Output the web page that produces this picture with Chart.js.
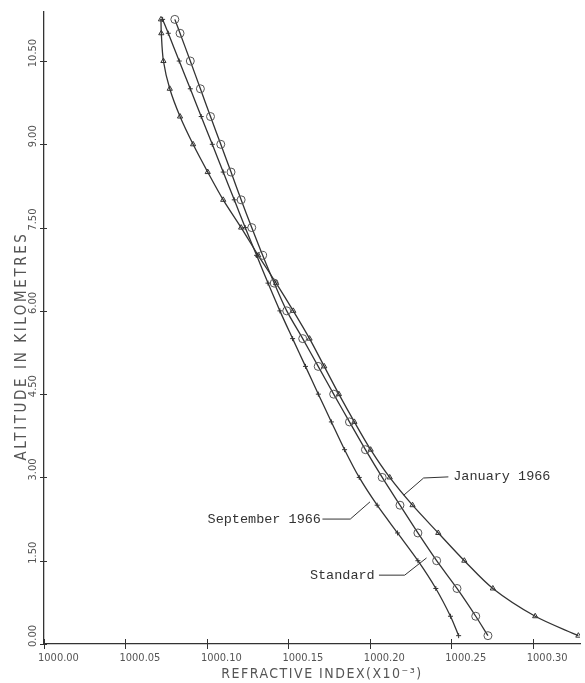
<!DOCTYPE html>
<html>
<head>
<meta charset="utf-8">
<script src="https://cdn.jsdelivr.net/npm/chart.js@4.4.1/dist/chart.umd.min.js"></script>
<style>
  html, body { margin: 0; padding: 0; background: #fff; }
  canvas { display: block; }
</style>
</head>
<body>
<canvas id="chart" width="585" height="683"></canvas>
<script>
// altitudes (km) shared by the three soundings
const altitudes = [0.15, 0.5, 1.0, 1.5, 2.0, 2.5, 3.0, 3.5, 4.0, 4.5, 5.0, 5.5,
                   6.0, 6.5, 7.0, 7.5, 8.0, 8.5, 9.0, 9.5, 10.0, 10.5, 11.0, 11.25];

// refractive index (x10^-3)
const september1966 = [1000.2545, 1000.2495, 1000.2405, 1000.2295, 1000.2170, 1000.2045,
                       1000.1935, 1000.1845, 1000.1764, 1000.1684, 1000.1605, 1000.1526,
                       1000.1448, 1000.1375, 1000.1305, 1000.1235, 1000.1168, 1000.1100,
                       1000.1033, 1000.0965, 1000.0898, 1000.0830, 1000.0763, 1000.0728];
const standard = [1000.2725, 1000.2650, 1000.2535, 1000.2410, 1000.2295, 1000.2185,
                  1000.2076, 1000.1973, 1000.1875, 1000.1778, 1000.1683, 1000.1588,
                  1000.1490, 1000.1413, 1000.1342, 1000.1275, 1000.1210, 1000.1148,
                  1000.1085, 1000.1022, 1000.0960, 1000.0898, 1000.0835, 1000.0803];
const january1966 = [1000.3280, 1000.3015, 1000.2755, 1000.2580, 1000.2420, 1000.2262,
                     1000.2122, 1000.2005, 1000.1905, 1000.1810, 1000.1720, 1000.1630,
                     1000.1530, 1000.1425, 1000.1315, 1000.1210, 1000.1100, 1000.1005,
                     1000.0915, 1000.0835, 1000.0772, 1000.0733, 1000.0720, 1000.0718];

const xTicks = [1000.00, 1000.05, 1000.10, 1000.15, 1000.20, 1000.25, 1000.30];
const xTickLabels = ['1000.00', '1000.05', '1000.10', '1000.15', '1000.20', '1000.25', '1000.30'];
const yTicks = [0, 1.5, 3.0, 4.5, 6.0, 7.5, 9.0, 10.5];
const yTickLabels = ['0.00', '1.50', '3.00', '4.50', '6.00', '7.50', '9.00', '10.50'];

// curve labels: text, anchor, leader polyline (data coords)
const curveLabels = [
  { text: 'January 1966', at: [1000.2512, 3.01], align: 'left',
    leader: [[1000.2482, 3.01], [1000.2330, 2.99], [1000.2208, 2.68]] },
  { text: 'September 1966', at: [1000.1700, 2.25], align: 'right',
    leader: [[1000.1709, 2.25], [1000.1880, 2.25], [1000.2001, 2.56]] },
  { text: 'Standard', at: [1000.2030, 1.24], align: 'right',
    leader: [[1000.2056, 1.24], [1000.2214, 1.24], [1000.2348, 1.55]] }
];

const ink = '#333';
const toPoints = vals => vals.map((v, i) => ({ x: v, y: altitudes[i] }));

const decor = {
  id: 'decor',
  beforeDraw(chart) {
    const ctx = chart.ctx;
    ctx.save();
    ctx.fillStyle = '#fff';
    ctx.fillRect(0, 0, chart.width, chart.height);
    ctx.restore();
  },
  afterDraw(chart) {
    const ctx = chart.ctx;
    const xs = chart.scales.x, ys = chart.scales.y;
    const area = chart.chartArea;
    ctx.save();
    ctx.strokeStyle = ink;
    ctx.fillStyle = '#555';
    ctx.lineWidth = 1;

    // tick marks crossing the axes
    xTicks.forEach(v => {
      const px = Math.round(xs.getPixelForValue(v)) + 0.5;
      ctx.beginPath();
      ctx.moveTo(px, area.bottom - 5);
      ctx.lineTo(px, area.bottom + 5);
      ctx.stroke();
    });
    yTicks.forEach(v => {
      const py = Math.round(ys.getPixelForValue(v)) + 0.5;
      ctx.beginPath();
      ctx.moveTo(area.left - 4, py);
      ctx.lineTo(area.left + 3, py);
      ctx.stroke();
    });

    // tick labels
    ctx.font = "11px 'Liberation Sans Narrow', 'DejaVu Sans Condensed', 'Liberation Sans', sans-serif";
    ctx.textBaseline = 'middle';
    ctx.textAlign = 'left';
    xTicks.forEach((v, i) => {
      ctx.fillText(xTickLabels[i], xs.getPixelForValue(v) - 6, area.bottom + 14);
    });
    ctx.textAlign = 'center';
    yTicks.forEach((v, i) => {
      ctx.save();
      ctx.translate(area.left - 11, ys.getPixelForValue(v) - 8);
      ctx.rotate(-Math.PI / 2);
      ctx.fillText(yTickLabels[i], 0, 0);
      ctx.restore();
    });

    // axis titles
    ctx.font = "14px 'Liberation Sans Narrow', 'DejaVu Sans Condensed', 'Liberation Sans', sans-serif";
    ctx.letterSpacing = '1.5px';
    ctx.textAlign = 'center';
    ctx.fillText('REFRACTIVE INDEX(X10\u207B\u00B3)', 322, 674);
    ctx.font = "15px 'Liberation Sans Narrow', 'DejaVu Sans Condensed', 'Liberation Sans', sans-serif";
    ctx.letterSpacing = '2.6px';
    ctx.save();
    ctx.translate(22, 346);
    ctx.rotate(-Math.PI / 2);
    ctx.fillText('ALTITUDE IN KILOMETRES', 0, 0);
    ctx.restore();
    ctx.letterSpacing = '0px';

    // curve labels with leaders
    ctx.font = "13.5px 'Liberation Mono', 'DejaVu Sans Mono', monospace";
    ctx.fillStyle = '#333';
    curveLabels.forEach(l => {
      ctx.beginPath();
      l.leader.forEach(([x, y], i) => {
        const px = xs.getPixelForValue(x), py = ys.getPixelForValue(y);
        if (i === 0) ctx.moveTo(px, py); else ctx.lineTo(px, py);
      });
      ctx.stroke();
      ctx.textAlign = l.align;
      ctx.fillText(l.text, xs.getPixelForValue(l.at[0]), ys.getPixelForValue(l.at[1]));
    });
    ctx.restore();
  }
};

new Chart(document.getElementById('chart'), {
  type: 'scatter',
  data: {
    datasets: [
      {
        label: 'September 1966',
        data: toPoints(september1966),
        showLine: true,
        borderColor: ink,
        borderWidth: 1.3,
        tension: 0.3,
        pointStyle: 'cross',
        pointRadius: 2.5,
        pointBorderColor: ink,
        pointBorderWidth: 1
      },
      {
        label: 'Standard',
        data: toPoints(standard),
        showLine: true,
        borderColor: ink,
        borderWidth: 1.3,
        tension: 0.3,
        pointStyle: 'circle',
        pointRadius: 4,
        pointBackgroundColor: 'rgba(255,255,255,0)',
        pointBorderColor: '#555',
        pointBorderWidth: 1
      },
      {
        label: 'January 1966',
        data: toPoints(january1966),
        showLine: true,
        borderColor: ink,
        borderWidth: 1.3,
        tension: 0.3,
        pointStyle: 'triangle',
        pointRadius: 3,
        pointBackgroundColor: 'rgba(255,255,255,0)',
        pointBorderColor: ink,
        pointBorderWidth: 1
      }
    ]
  },
  options: {
    responsive: false,
    animation: false,
    layout: { padding: { top: 12, right: 0, left: 0, bottom: 0 } },
    plugins: {
      legend: { display: false },
      tooltip: { enabled: false }
    },
    scales: {
      x: {
        type: 'linear',
        min: 1000.0,
        max: 1000.329,
        grid: { display: false, drawTicks: false },
        border: { display: true, color: ink, width: 1.3 },
        ticks: { display: false },
        afterFit: s => { s.height = 39; }
      },
      y: {
        type: 'linear',
        min: 0,
        max: 11.383,
        grid: { display: false, drawTicks: false },
        border: { display: true, color: ink, width: 1.3 },
        ticks: { display: false },
        afterFit: s => { s.width = 44; }
      }
    }
  },
  plugins: [decor]
});
</script>
</body>
</html>
